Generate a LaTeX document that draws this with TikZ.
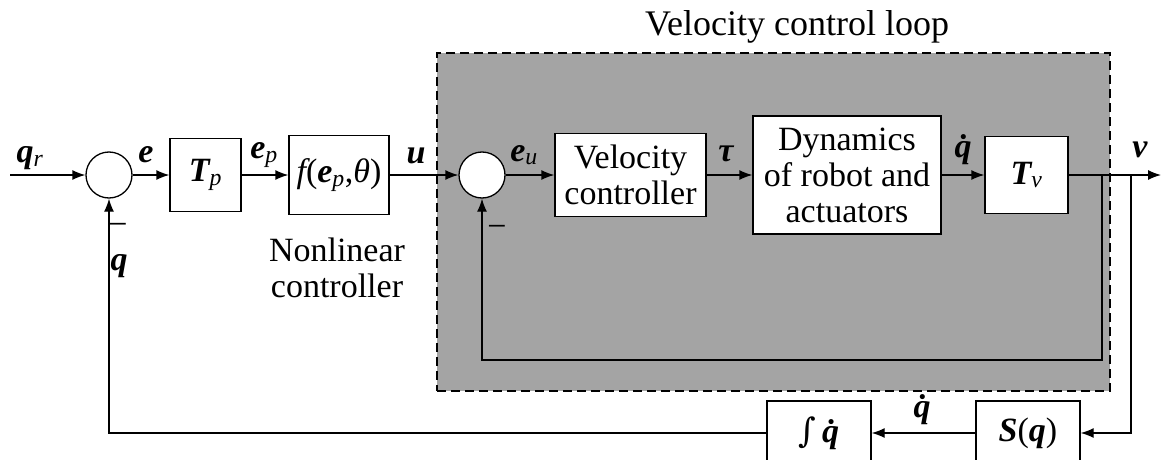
\documentclass[tikz,border=0pt]{standalone}
\usepackage{fontspec}
\setmainfont{Liberation Serif}
\newfontfamily\symfont{DejaVu Serif}
\usetikzlibrary{arrows.meta}
\definecolor{loopgray}{HTML}{A4A4A4}
\newcommand{\bq}[1]{{\bfseries\itshape #1}}
\newcommand{\sub}[1]{\textsubscript{\itshape #1}}

\begin{document}
\begin{tikzpicture}[x=1pt, y=-1pt, line width=1.3pt, font=\fontsize{34}{36}\selectfont,
	blk/.style={rectangle, draw=black, fill=white, align=center, inner sep=0pt},
	sum/.style={circle, draw=black, fill=white, minimum size=46pt, inner sep=0pt},
	lbl/.style={inner sep=0pt, align=center},
	sig/.style={-{Latex[length=13pt,width=10pt]}}]
			\useasboundingbox (0,0) rectangle (1161,460);
			\node[lbl, font=\fontsize{36}{38}\selectfont] (title) at (797,27){Velocity control loop};
			\node[draw=black, dash pattern=on 9pt off 5pt, fill=loopgray, minimum width=673pt, minimum height=338pt, inner sep=0pt] (vloop) at (773.5,222){};
			
			\coordinate (in) at (10,175);
			\node[sum] (s1) at (109,175){};
			\node[blk, minimum width=71pt, minimum height=73pt] (tp) at (205.5,175){\bq{T}\sub{p}};
			\node[blk, minimum width=100pt, minimum height=79pt] (fb) at (339,175){{\itshape f}(\bq{e}\sub{p},{\itshape θ})};
			\node[sum] (s2) at (482,175){};
			\node[blk, minimum width=151pt, minimum height=83pt] (vc) at (630.5,175){Velocity\\controller};
			\node[blk, minimum width=188pt, minimum height=118pt] (dyn) at (847,175){Dynamics\\of robot and\\actuators};
			\node[blk, minimum width=83pt, minimum height=77pt] (tv) at (1026.5,175){\bq{T}\sub{v}};
			\coordinate (out) at (1161,175);
			\coordinate (b1) at (1102,175);
			\coordinate (b2) at (1131,175);
			\coordinate (c1) at (1102,360);
			\node[blk, minimum width=104pt, minimum height=64pt] (sq) at (1028,433){\bq{S}(\bq{q})};
			\node[blk, minimum width=104pt, minimum height=64pt] (int) at (819,433){{\symfont ∫}\,\bq{\.q}};
			
			\node[lbl] (lqr) at (30,158){\bq{q}\sub{r}};
			\node[lbl] (le) at (146,155){\bq{e}};
			\node[lbl] (lep) at (264,155){\bq{e}\sub{p}};
			\node[lbl] (lu) at (416,156){\bq{u}};
			\node[lbl] (leu) at (524,155){\bq{e}\sub{u}};
			\node[lbl] (ltau) at (726,154){\bq{τ}};
			\node[lbl] (lqd) at (963,150){\bq{\.q}};
			\node[lbl] (lv) at (1140,150){\bq{v}};
			\node[lbl] (lm1) at (118,229){−};
			\node[lbl] (lm2) at (497,231){−};
			\node[lbl] (lq) at (119,266){\bq{q}};
			\node[lbl] (lqd2) at (922,410){\bq{\.q}};
			\node[lbl] (lnl) at (337,268){Nonlinear\\controller};
			
			\path[sig] (in) edge (s1);
			\path[sig] (s1) edge (tp);
			\path[sig] (tp) edge (fb);
			\path[sig] (fb) edge (s2);
			\path[sig] (s2) edge (vc);
			\path[sig] (vc) edge (dyn);
			\path[sig] (dyn) edge (tv);
			\draw[sig] (tv) -- (out);
			\draw[sig] (b1) -- (c1) -| (s2.south);
			\draw[sig] (b2) |- (sq.east);
			\draw[sig] (sq) -- (int);
			\draw[sig] (int.west) -| (s1.south);
			\end{tikzpicture}
\end{document}
